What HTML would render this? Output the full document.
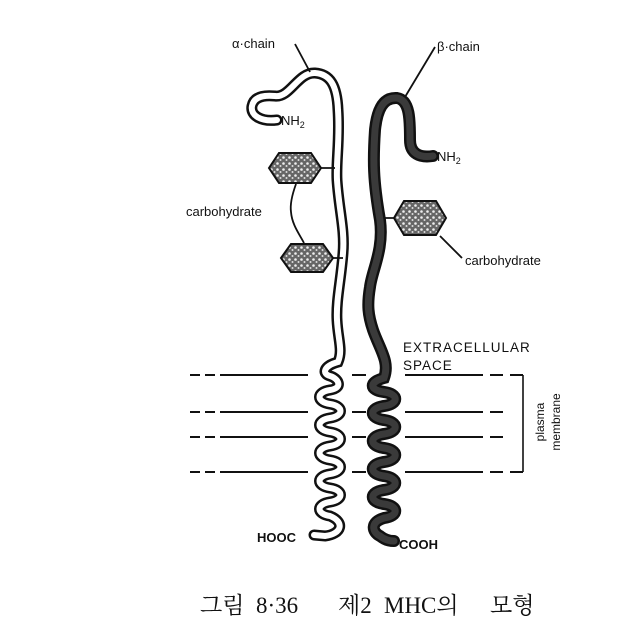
<!DOCTYPE html>
<html><head><meta charset="utf-8"><style>
html,body{margin:0;padding:0;background:#fff;}
svg{display:block}
text{font-family:"Liberation Sans",sans-serif;fill:#111}
.c{font-family:"Liberation Serif","Noto Serif CJK SC","Noto Sans CJK KR",serif;font-size:23px}
</style></head><body>
<svg width="622" height="629" viewBox="0 0 622 629" xmlns="http://www.w3.org/2000/svg">
<defs>
<pattern id="st" width="6" height="6" patternUnits="userSpaceOnUse">
<rect width="6" height="6" fill="#666"/>
<circle cx="1.5" cy="1.5" r="1.3" fill="#eee"/>
<circle cx="4.5" cy="4" r="1" fill="#ddd"/>
</pattern>
</defs>
<g stroke="#111" stroke-width="2" fill="none">
<path d="M190 375h10M205 375h10M220 375h88M352 375h14M405 375h78M490 375h13M510 375h13"/>
<path d="M190 412h10M205 412h10M220 412h88M352 412h14M405 412h78M490 412h13"/>
<path d="M190 437h10M205 437h10M220 437h88M352 437h14M405 437h78M490 437h13"/>
<path d="M190 472h10M205 472h10M220 472h88M352 472h14M405 472h78M490 472h13M510 472h13"/>
<path d="M523 375V472" stroke-width="1.6"/>
</g>
<g fill="none" stroke-linecap="round">
<path d="M277 120 C262 122 250 116 252 106 C254 96 265 95 275 96 C290 98 298 72 315 73 C330 74 337 85 338 110 C340 140 336 160 337 180 C339 210 345 230 343 253 C341 280 336 300 337 320 C338 340 343 350 338 362 C323 366 322 374 330 376 S344 388 330 390 S316 402 330 404 S344 416 330 418 S316 430 330 432 S344 444 330 446 S316 458 330 460 S344 472 330 474 S316 486 330 488 S344 500 330 502 S316 514 330 516 C345 522 342 534 325 536 L314 535" stroke="#111" stroke-width="11"/>
<path d="M277 120 C262 122 250 116 252 106 C254 96 265 95 275 96 C290 98 298 72 315 73 C330 74 337 85 338 110 C340 140 336 160 337 180 C339 210 345 230 343 253 C341 280 336 300 337 320 C338 340 343 350 338 362 C323 366 322 374 330 376 S344 388 330 390 S316 402 330 404 S344 416 330 418 S316 430 330 432 S344 444 330 446 S316 458 330 460 S344 472 330 474 S316 486 330 488 S344 500 330 502 S316 514 330 516 C345 522 342 534 325 536 L314 535" stroke="#fff" stroke-width="6"/>
<path d="M433 156 C420 158 410 154 410 140 C410 120 410 100 397 98 C383 97 377 110 375 130 C373 160 373 180 380 220 C384 250 372 270 370 287 C367 305 368 315 373 330 C380 350 390 362 384 378 C369 382 369 390 384 392 S399 404 384 406 S369 418 384 420 S399 432 384 434 S369 446 384 448 S399 460 384 462 S369 474 384 476 S399 488 384 490 S369 502 384 504 S399 516 384 518 C370 522 372 532 380 536 C385 540 390 541 394 541" stroke="#111" stroke-width="12"/>
<path d="M433 156 C420 158 410 154 410 140 C410 120 410 100 397 98 C383 97 377 110 375 130 C373 160 373 180 380 220 C384 250 372 270 370 287 C367 305 368 315 373 330 C380 350 390 362 384 378 C369 382 369 390 384 392 S399 404 384 406 S369 418 384 420 S399 432 384 434 S369 446 384 448 S399 460 384 462 S369 474 384 476 S399 488 384 490 S369 502 384 504 S399 516 384 518 C370 522 372 532 380 536 C385 540 390 541 394 541" stroke="#3a3a3a" stroke-width="7"/>
</g>
<g stroke="#111" stroke-width="2" fill="url(#st)">
<polygon points="269,168 279,153 311,153 321,168 311,183 279,183"/>
<polygon points="281,258 291,244 323,244 333,258 323,272 291,272"/>
<polygon points="394,218 404,201 436,201 446,218 436,235 404,235"/>
</g>
<g stroke="#111" stroke-width="1.8" fill="none">
<path d="M321 168H335M333 258H343M385 218H394"/>
<path d="M295 44L310 72M435 47L405 97"/>
<path d="M296 184C292 195 290 205 291 212C292 225 300 235 304 243"/>
<path d="M440 236L462 258"/>
</g>
<text x="232" y="48" font-size="13">α·chain</text>
<text x="437" y="51" font-size="13">β·chain</text>
<text x="281" y="125" font-size="13">NH<tspan font-size="9" dy="3">2</tspan></text>
<text x="437" y="161" font-size="13">NH<tspan font-size="9" dy="3">2</tspan></text>
<text x="186" y="216" font-size="13">carbohydrate</text>
<text x="465" y="265" font-size="13">carbohydrate</text>
<text x="403" y="352" font-size="13.5" letter-spacing="1">EXTRACELLULAR</text>
<text x="403" y="370" font-size="13.5" letter-spacing="1">SPACE</text>
<text x="257" y="542" font-size="13" font-weight="bold">HOOC</text>
<text x="399" y="549" font-size="13" font-weight="bold">COOH</text>
<text transform="translate(544,422) rotate(-90)" font-size="12" text-anchor="middle">plasma</text>
<text transform="translate(560,422) rotate(-90)" font-size="12" text-anchor="middle">membrane</text>
<text class="c" x="200" y="613">그림</text>
<text class="c" x="256" y="613">8·36</text>
<text class="c" x="338" y="613">제2</text>
<text class="c" x="384" y="613">MHC의</text>
<text class="c" x="490" y="613">모형</text>
</svg>
</body></html>
